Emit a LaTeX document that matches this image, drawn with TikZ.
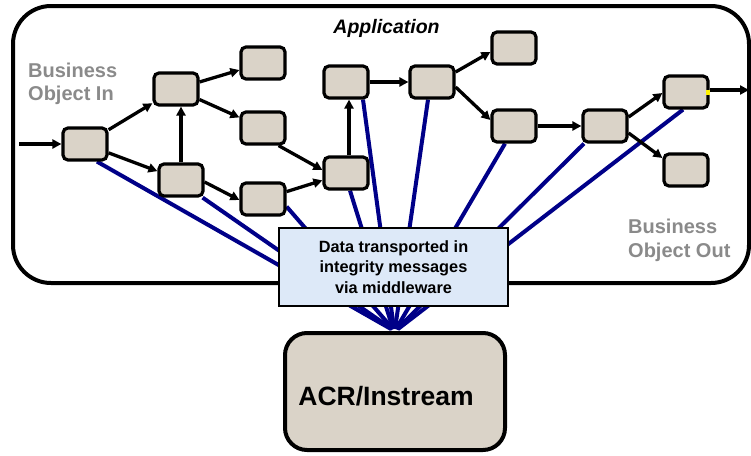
\documentclass[tikz,border=0pt]{standalone}
\usepackage{fontspec}
\setmainfont{Liberation Sans}
\usetikzlibrary{arrows.meta,calc,backgrounds}
\definecolor{boxfill}{HTML}{DAD3C8}
\definecolor{msgfill}{HTML}{DDE9F8}
\definecolor{wire}{HTML}{000088}
\definecolor{labelgray}{HTML}{8A8A8A}
\begin{document}
\begin{tikzpicture}[x=1pt,y=-1pt,
  proc/.style={draw=black, line width=3.2pt, fill=boxfill, rounded corners=5pt,
    minimum width=44pt, minimum height=32pt, inner sep=0pt},
  flow/.style={line width=3.3pt, -{Triangle[length=9pt,width=9pt]}},
  wireline/.style={draw=wire, line width=4pt},
  graytext/.style={text=labelgray, font=\fontsize{20}{23}\selectfont\bfseries,
    anchor=base west, inner sep=0pt},
  appframe/.style={draw=black, line width=4pt, rounded corners=38pt,
    minimum width=736pt, minimum height=277pt, inner sep=0pt},
  msgbox/.style={draw=black, line width=2.5pt, fill=msgfill, minimum width=229pt,
    minimum height=78pt, inner sep=0pt, align=center,
    font=\fontsize{16.3}{20.5}\selectfont\bfseries},
  acrbox/.style={draw=black, line width=4pt, fill=boxfill, rounded corners=22pt,
    minimum width=220pt, minimum height=117pt, inner sep=0pt}
]
\useasboundingbox (0,0) rectangle (751,455);

% application frame
\node[appframe] (app) at (381,144.5) {};
\node[anchor=base, inner sep=0pt, font=\fontsize{19.5}{22}\selectfont\bfseries\itshape]
  (apptitle) at (386.5,33) {Application};

% process boxes
\node[proc] (A) at (85,144) {};
\node[proc] (B) at (176,89) {};
\node[proc] (C) at (263,63) {};
\node[proc] (D) at (263,128) {};
\node[proc] (E) at (181,180) {};
\node[proc] (F) at (263,199) {};
\node[proc] (G) at (346,173) {};
\node[proc] (H) at (346,82) {};
\node[proc] (I) at (432,82) {};
\node[proc] (J) at (514,48) {};
\node[proc] (K) at (514,126) {};
\node[proc] (L) at (605,126) {};
\node[proc] (M) at (686,92) {};
\node[proc] (N) at (686,170) {};

% labels
\node[graytext] (bin1) at (28,77) {Business};
\node[graytext] (bin2) at (28,100) {Object In};
\node[graytext] (bout1) at (628,233) {Business};
\node[graytext] (bout2) at (628,257) {Object Out};

% ACR box
\node[acrbox] (acr) at (395,391.5) {};
\node[anchor=base, inner sep=0pt, font=\fontsize{26.5}{30}\selectfont\bfseries]
  (acrlabel) at (386,405) {ACR/Instream};

% message box
\node[msgbox] (msg) at (393.5,267) {Data transported in\\integrity messages\\via middleware};

% free ends
\coordinate (inA) at (19,144);
\coordinate (outM) at (749,90);

% flow arrows
\draw[flow] (inA) -- (A.west);
\draw[flow] (A) -- (B);
\draw[flow] (A) -- (E);
\draw[flow] (E.north) -- (E.north |- B.south);
\draw[flow] (B) -- (C);
\draw[flow] (B) -- (D);
\draw[flow] ($(E.east)+(0,2)$) -- ($(F.west)+(0,1)$);
\draw[flow] ($(D.south east)+(-8,0)$) -- ($(G.west)+(0,-3)$);
\draw[flow] (F) -- (G);
\draw[flow] ($(G.north)+(3,0)$) -- ($(G.north |- H.south)+(3,0)$);
\draw[flow] (H) -- (I);
\draw[flow] ($(I.east)+(0,-10)$) -- ($(J.west)+(0,4)$);
\draw[flow] ($(I.east)+(0,5)$) -- ($(K.west)+(0,-6)$);
\draw[flow] (K) -- (L);
\draw[flow] ($(L.east)+(0,-9)$) -- ($(M.west)+(0,1)$);
\draw[flow] ($(L.east)+(0,7)$) -- ($(N.west)+(0,-12)$);
\draw[flow] ($(M.east)+(0,-2)$) -- (outM);
\fill[yellow] (706,90) rectangle (710,95);

% middleware wires
\begin{pgfonlayer}{background}
\draw[wireline] ($(A.south)+(12,0)$) -- ($(acr.north)+(-4,-2)$);
\draw[wireline] ($(E.south east)+(-2,0)$) -- ($(acr.north)+(-3,-2)$);
\draw[wireline] ($(F.south east)+(0,-10)$) -- ($(acr.north)+(-2,-2)$);
\draw[wireline] ($(G.south)+(4,0)$) -- ($(acr.north)+(-2,-2)$);
\draw[wireline] ($(H.south)+(17,0)$) -- ($(acr.north)+(-1,-2)$);
\draw[wireline] ($(I.south)+(-4,0)$) -- ($(acr.north)+(0,-2)$);
\draw[wireline] ($(K.south)+(-9,0)$) -- ($(acr.north)+(1,-2)$);
\draw[wireline] ($(L.south)+(-21,0)$) -- ($(acr.north)+(2,-2)$);
\draw[wireline] ($(M.south)+(-3,0)$) -- ($(acr.north)+(3,-2)$);
\end{pgfonlayer}
\end{tikzpicture}
\end{document}
